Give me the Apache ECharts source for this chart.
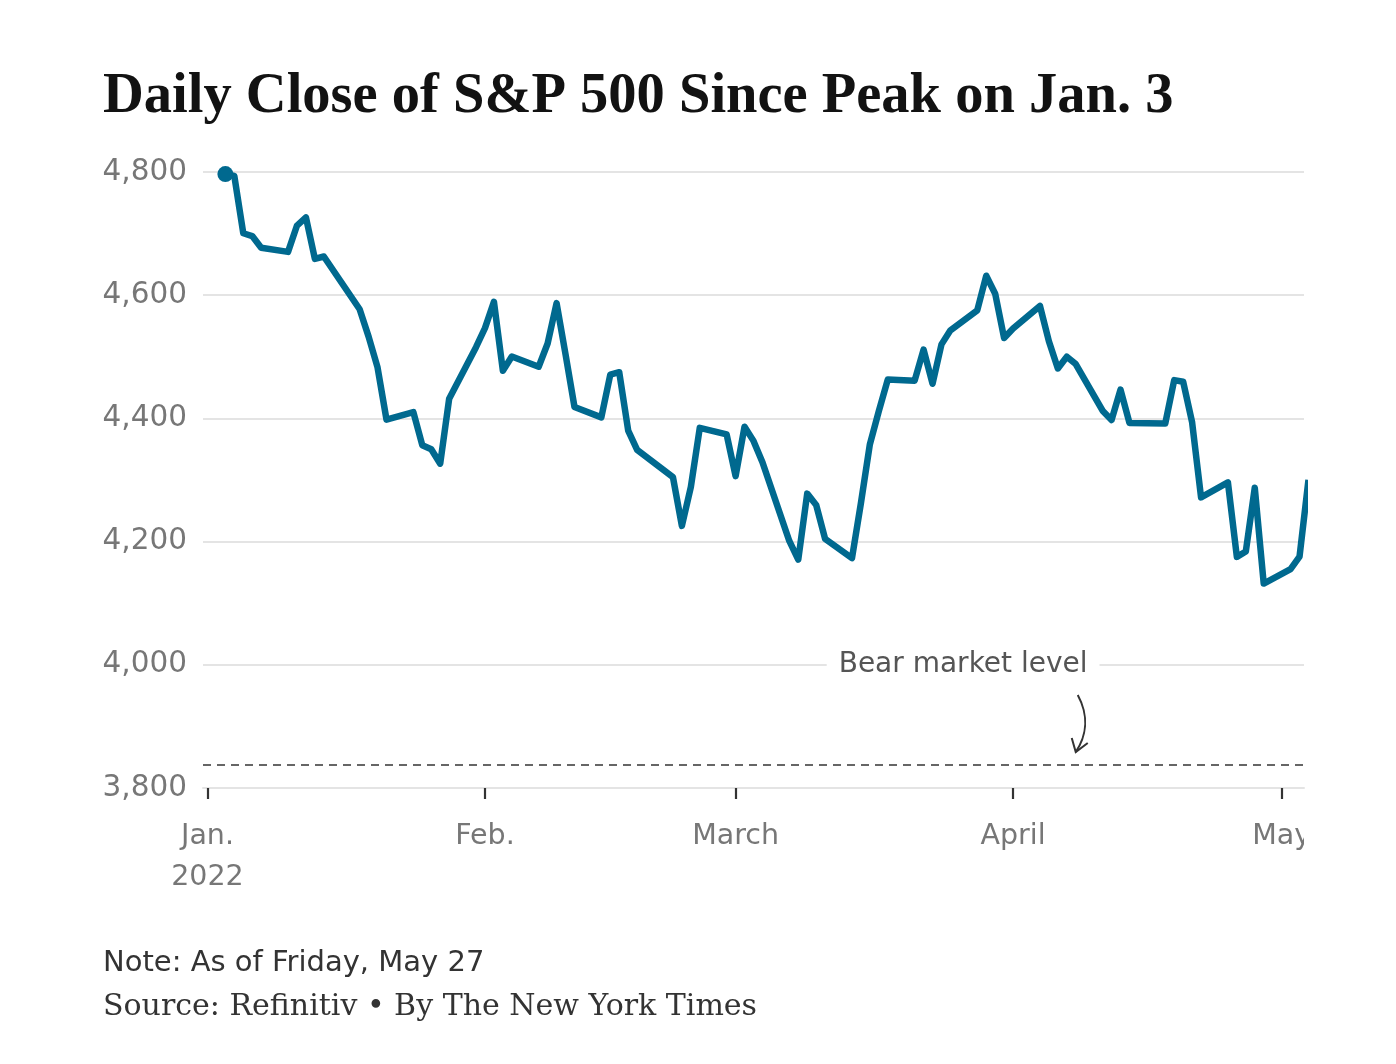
<!DOCTYPE html>
<html>
<head>
<meta charset="utf-8">
<script src="https://cdn.jsdelivr.net/npm/echarts@6/dist/echarts.min.js"></script>
<style>
html,body{margin:0;padding:0;background:#fff}
#c{width:1396px;height:1064px}
</style>
</head>
<body>
<div id="c"></div>
<script>
// ---- Data ----
const dates = [
  '2022-01-03','2022-01-04','2022-01-05','2022-01-06','2022-01-07','2022-01-10','2022-01-11','2022-01-12','2022-01-13','2022-01-14',
  '2022-01-18','2022-01-19','2022-01-20','2022-01-21','2022-01-24','2022-01-25','2022-01-26','2022-01-27','2022-01-28','2022-01-31',
  '2022-02-01','2022-02-02','2022-02-03','2022-02-04','2022-02-07','2022-02-08','2022-02-09','2022-02-10','2022-02-11','2022-02-14',
  '2022-02-15','2022-02-16','2022-02-17','2022-02-18','2022-02-22','2022-02-23','2022-02-24','2022-02-25','2022-02-28',
  '2022-03-01','2022-03-02','2022-03-03','2022-03-04','2022-03-07','2022-03-08','2022-03-09','2022-03-10','2022-03-11','2022-03-14',
  '2022-03-15','2022-03-16','2022-03-17','2022-03-18','2022-03-21','2022-03-22','2022-03-23','2022-03-24','2022-03-25','2022-03-28',
  '2022-03-29','2022-03-30','2022-03-31',
  '2022-04-01','2022-04-04','2022-04-05','2022-04-06','2022-04-07','2022-04-08','2022-04-11','2022-04-12','2022-04-13','2022-04-14',
  '2022-04-18','2022-04-19','2022-04-20','2022-04-21','2022-04-22','2022-04-25','2022-04-26','2022-04-27','2022-04-28','2022-04-29',
  '2022-05-02','2022-05-03','2022-05-04'
];
const closes = [
  4796.56,4793.54,4700.58,4696.05,4677.03,4670.29,4713.07,4726.35,4659.03,4662.85,
  4577.11,4532.76,4482.73,4397.94,4410.13,4356.45,4349.93,4326.51,4431.85,4515.55,
  4546.54,4589.38,4477.44,4500.53,4483.87,4521.54,4587.18,4504.08,4418.64,4401.67,
  4471.07,4475.01,4380.26,4348.87,4304.76,4225.50,4288.70,4384.65,4373.94,
  4306.26,4386.54,4363.49,4328.87,4201.09,4170.70,4277.88,4259.52,4204.31,4173.11,
  4262.45,4357.86,4411.67,4463.12,4461.18,4511.61,4456.24,4520.16,4543.06,4575.52,
  4631.60,4602.45,4530.41,
  4545.86,4582.64,4525.12,4481.15,4500.21,4488.28,4412.53,4397.45,4446.59,4392.59,
  4391.69,4462.21,4459.45,4393.66,4271.78,4296.12,4175.20,4183.96,4287.50,4131.93,
  4155.38,4175.48,4300.17
];
const peakClose = 4796.56;
const bearLevel = peakClose * 0.8;            // 20% below the Jan. 3 peak
const yMin = 3800, yMax = 4800, yStep = 200;
const monthTicks = ['2022-01-01','2022-02-01','2022-03-01','2022-04-01','2022-05-01'];
const monthLabels = ['Jan.\n2022','Feb.','March','April','May'];
const xStart = '2021-12-31 12:00';
const xEnd = '2022-05-03 12:00';
const bearLabelAt = ['2022-03-26 10:00', 4000];
const arrowAt = ['2022-04-08 00:00', bearLevel];

// ---- Helpers ----
function parseLocal(s){
  const m = s.match(/^(\d+)-(\d+)-(\d+)(?:[ T](\d+):(\d+))?/);
  return new Date(+m[1], +m[2]-1, +m[3], m[4]?+m[4]:0, m[5]?+m[5]:0).getTime();
}
const seriesData = dates.map((d,i)=>[parseLocal(d), closes[i]]);
const tickValues = monthTicks.map(parseLocal);
function labelOf(v){
  let best = -1, bd = Infinity;
  tickValues.forEach((t,i)=>{ const d = Math.abs(t - v); if (d < bd) { bd = d; best = i; } });
  return bd < 3600e3 ? monthLabels[best] : '';
}

const SANS = '"DejaVu Sans", sans-serif';
const LINE_COLOR = '#00698f';

const chart = echarts.init(document.getElementById('c'), null, {renderer:'canvas'});
chart.setOption({
  animation: false,
  backgroundColor: '#fff',
  grid: { left: 203, right: 92, top: 172, bottom: 276, containLabel: false },
  xAxis: {
    type: 'value',
    min: parseLocal(xStart),
    max: parseLocal(xEnd),
    axisLine: { show: true, lineStyle: { color: '#e4e4e4', width: 2 } },
    axisTick: { show: true, customValues: tickValues, length: 11, lineStyle: { color: '#333', width: 2.2 } },
    axisLabel: {
      customValues: tickValues,
      formatter: v => labelOf(v),
      margin: 28, color: '#777', fontFamily: SANS, fontSize: 28.5, lineHeight: 41, align: 'center'
    },
    splitLine: { show: false }
  },
  yAxis: {
    type: 'value', min: yMin, max: yMax, interval: yStep,
    axisLine: { show: false }, axisTick: { show: false },
    axisLabel: { formatter: v => v.toLocaleString('en-US'), color: '#777', fontFamily: SANS, fontSize: 29.5, margin: 16, padding: [8, 0, 0, 0] },
    splitLine: { show: true, lineStyle: { color: '#e4e4e4', width: 2 } }
  },
  series: [
    {
      type: 'line', data: seriesData, showSymbol: false, symbol: 'none', clip: true,
      lineStyle: { color: LINE_COLOR, width: 6.5, join: 'round', cap: 'butt' },
      z: 5,
      markLine: {
        silent: true, symbol: 'none', animation: false,
        label: { show: false },
        lineStyle: { color: '#666', width: 2, type: [8, 6] },
        data: [{ yAxis: bearLevel }]
      },
      markPoint: {
        silent: true, animation: false,
        data: [{
          coord: [parseLocal(bearLabelAt[0]), bearLabelAt[1]], symbol: 'rect', symbolSize: 1, itemStyle: { color: 'rgba(0,0,0,0)' },
          label: { show: true, position: 'inside', formatter: 'Bear market level', color: '#555',
                   fontFamily: SANS, fontSize: 28, backgroundColor: '#fff', padding: [4, 12] }
        }]
      }
    },
    {
      type: 'scatter', data: [seriesData[0]], symbol: 'circle', symbolSize: 16,
      itemStyle: { color: LINE_COLOR, opacity: 1 }, z: 6, silent: true
    }
  ]
});

// ---- Annotations anchored to data ----
const tip = chart.convertToPixel({gridIndex:0}, [parseLocal(arrowAt[0]), arrowAt[1]]);
const tx = tip[0], ty = tip[1] - 13;
chart.setOption({
  graphic: [
    { type:'text', left: 103, top: 69, style: { text: 'Daily Close of S&P 500 Since Peak on Jan. 3', font: 'bold 56.5px "Liberation Serif", serif', fill: '#121212' } },
    { type:'text', left: 103, top: 949, style: { text: 'Note: As of Friday, May 27', font: '29px "DejaVu Sans", sans-serif', fill: '#333' } },
    { type:'text', left: 103, top: 992, style: { text: 'Source: Refinitiv \u2022 By The New York Times', font: '30px "DejaVu Serif", serif', fill: '#333' } },
    { type:'bezierCurve', shape: { x1: tx+2, y1: ty-57, cpx1: tx+14, cpy1: ty-35, cpx2: tx+10, cpy2: ty-15, x2: tx, y2: ty }, style: { stroke:'#333', lineWidth: 2, fill: null }, z: 10 },
    { type:'polyline', shape: { points: [[tx-4, ty-14],[tx, ty],[tx+12, ty-9]] }, style: { stroke:'#333', lineWidth: 2, fill: null }, z: 10 },
    { type:'rect', shape: { x: 1304, y: 802, width: 92, height: 110 }, style: { fill: '#fff' }, z: 100 }
  ]
});
</script>
</body>
</html>
